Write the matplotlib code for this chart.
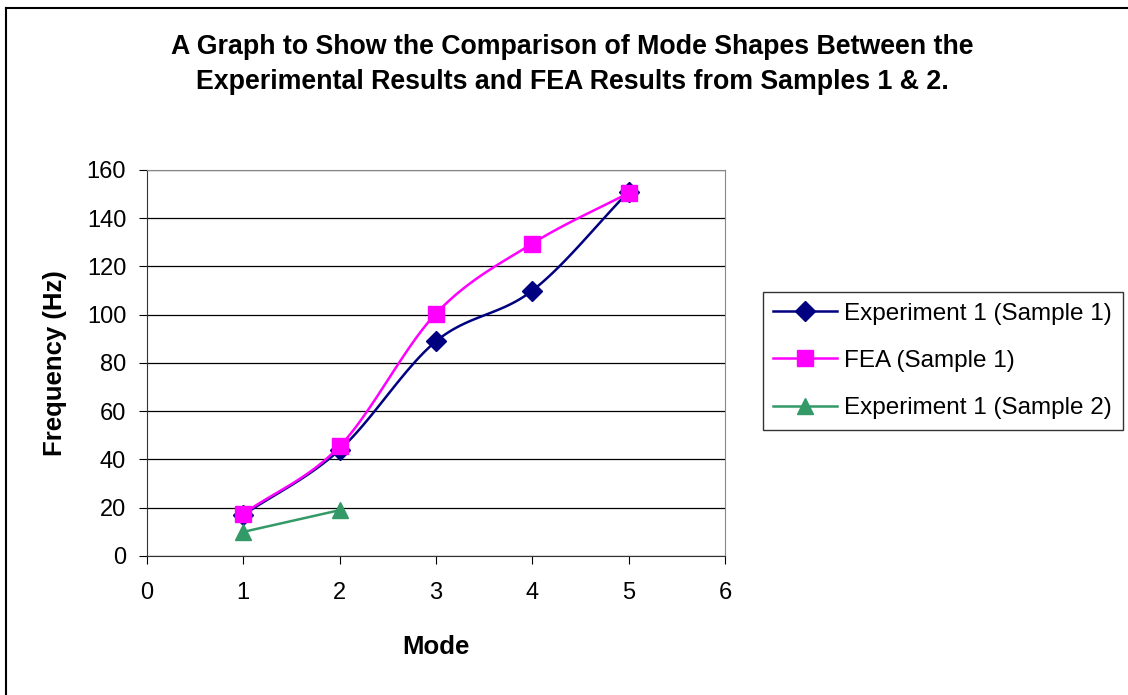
import numpy as np
import matplotlib.pyplot as plt
from matplotlib.lines import Line2D

plt.rcParams['font.family'] = ['Liberation Sans', 'DejaVu Sans']

# Dados
modos = [1, 2, 3, 4, 5]
exp1_amostra1 = [17, 44, 89, 110, 151]
fea_amostra1 = [17.5, 45.5, 100.5, 129.5, 150.5]
modos_amostra2 = [1, 2]
exp1_amostra2 = [10, 19]

rotulos = ['Experiment 1 (Sample 1)', 'FEA (Sample 1)', 'Experiment 1 (Sample 2)']
cores = ['#000080', '#FF00FF', '#339966']
marcadores = ['D', 's', '^']
tamanhos = [10, 12, 12]


def suavizar(x, y, n=30):
    # linha suavizada estilo Excel (Catmull-Rom) passando pelos pontos
    x = np.asarray(x, float)
    y = np.asarray(y, float)
    if len(x) < 3:
        return x, y
    px = np.concatenate([[2 * x[0] - x[1]], x, [2 * x[-1] - x[-2]]])
    py = np.concatenate([[2 * y[0] - y[1]], y, [2 * y[-1] - y[-2]]])
    xs, ys = [], []
    t = np.linspace(0, 1, n)
    for i in range(1, len(px) - 2):
        for p, out in ((px, xs), (py, ys)):
            p0, p1, p2, p3 = p[i - 1], p[i], p[i + 1], p[i + 2]
            out.extend(0.5 * ((2 * p1) + (-p0 + p2) * t
                              + (2 * p0 - 5 * p1 + 4 * p2 - p3) * t ** 2
                              + (-p0 + 3 * p1 - 3 * p2 + p3) * t ** 3))
    return np.array(xs), np.array(ys)


fig = plt.figure(figsize=(11.28, 6.95), dpi=100)
# moldura do gráfico (só aparecem as bordas superior e esquerda)
fig.lines.append(Line2D([0.0053, 1.0], [0.9885, 0.9885], transform=fig.transFigure,
                        color='black', linewidth=1.5))
fig.lines.append(Line2D([0.0053, 0.0053], [0.0, 0.9885], transform=fig.transFigure,
                        color='black', linewidth=1.5))

ax = fig.add_axes([0.1303, 0.2, 0.5124, 0.5554])

series = [(modos, exp1_amostra1), (modos, fea_amostra1), (modos_amostra2, exp1_amostra2)]
for (xs, ys), rot, cor, mk, ms in zip(series, rotulos, cores, marcadores, tamanhos):
    sx, sy = suavizar(xs, ys)
    ax.plot(sx, sy, color=cor, linewidth=1.8, zorder=3)
    ax.plot(xs, ys, linestyle='none', marker=mk, color=cor, markersize=ms, zorder=4)
    ax.plot([], [], color=cor, marker=mk, linewidth=1.8, markersize=ms, label=rot)

ax.set_xlim(0, 6)
ax.set_ylim(0, 160)
ax.set_xticks(range(0, 7))
ax.set_yticks(range(0, 161, 20))
ax.yaxis.grid(True, color='black', linewidth=0.9)
ax.set_axisbelow(True)
for lado in ['top', 'right']:
    ax.spines[lado].set_color('#888888')
for lado in ['left', 'bottom']:
    ax.spines[lado].set_color('#333333')
ax.tick_params(direction='out', length=6, labelsize=17)
ax.tick_params(axis='y', pad=9)
ax.tick_params(axis='x', pad=13)

ax.set_xlabel('Mode', fontsize=18.5, fontweight='bold', labelpad=22)
ax.set_ylabel('Frequency (Hz)', fontsize=18.5, fontweight='bold', labelpad=14)

fig.text(0.507, 0.9076, 'A Graph to Show the Comparison of Mode Shapes Between the\n'
         'Experimental Results and FEA Results from Samples 1 & 2.',
         ha='center', va='center', fontsize=19.3, fontweight='bold', linespacing=1.45)

leg = fig.legend(loc='center left', bbox_to_anchor=(0.676, 0.4806), fontsize=17.5,
                 frameon=True, fancybox=False, edgecolor='black', handlelength=2.6,
                 handletextpad=0.3, labelspacing=1.03, borderpad=0.45, borderaxespad=0)
leg.get_frame().set_linewidth(1.0)

fig.savefig('out.png', dpi=100)
